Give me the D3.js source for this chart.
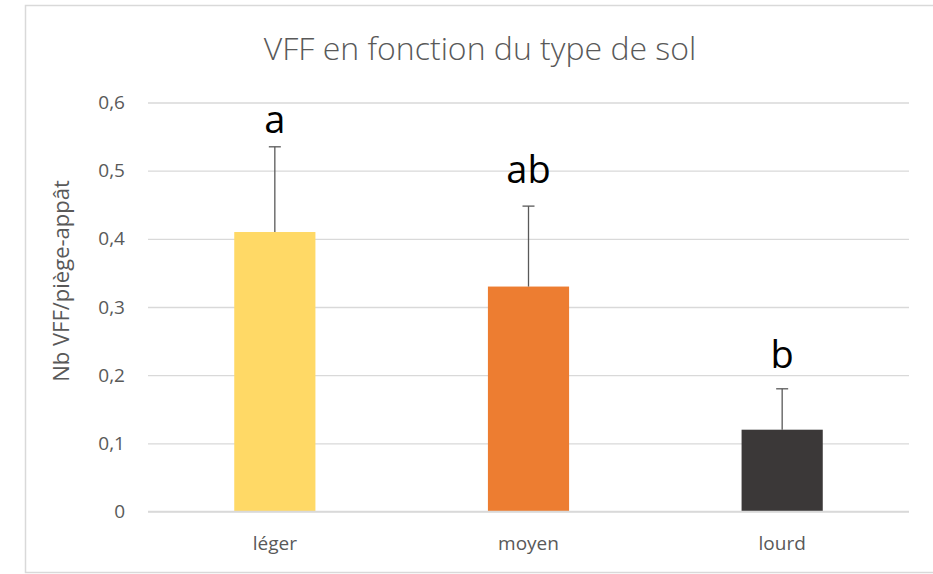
<!DOCTYPE html>
<html>
<head>
<meta charset="utf-8">
<script src="https://cdn.jsdelivr.net/npm/d3@7"></script>
<style>
  body { margin: 0; background: #fff; }
  text { font-family: "Open Sans", "Liberation Sans", sans-serif; }
</style>
</head>
<body>
<div id="chart"></div>
<script>
// data
let categories = ["léger", "moyen", "lourd"];
let means = [0.41, 0.33, 0.12];
let errors = [0.125, 0.118, 0.06];
let groups = ["a", "ab", "b"];
let groupPos = [0.555, 0.482, 0.21];   // where the letters sit (axis units)
let colors = ["#FFD966", "#ED7D31", "#3B3838"];
let yTicks = [0, 0.1, 0.2, 0.3, 0.4, 0.5, 0.6];

let W = 933, H = 574;
let margin = {top: 102.5, left: 148, right: 24, bottom: 62.5};

let svg = d3.select("#chart").append("svg")
  .attr("width", W)
  .attr("height", H);

// chart frame
svg.append("rect")
  .attr("x", 25.5).attr("y", 5.5)
  .attr("width", 930).attr("height", 567)
  .attr("fill", "#fff")
  .attr("stroke", "#d9d9d9")
  .attr("stroke-width", 1.5);

let x = d3.scaleBand()
  .domain(categories)
  .range([margin.left, W - margin.right])
  .paddingInner(0.68)
  .paddingOuter(0.34);

let y = d3.scaleLinear()
  .domain([0, 0.6])
  .range([H - margin.bottom, margin.top]);

let fmt = d => d === 0 ? "0" : d3.format(".1f")(d).replace(".", ",");

// grid + y labels
let yAxis = svg.append("g")
  .attr("transform", "translate(" + margin.left + ",0)")
  .call(d3.axisLeft(y).tickValues(yTicks).tickFormat(fmt)
    .tickSize(-(W - margin.right - margin.left)).tickPadding(23));
yAxis.select(".domain").remove();
yAxis.selectAll(".tick line").attr("stroke", "#d9d9d9").attr("stroke-width", 1.3);
yAxis.selectAll(".tick text")
  .attr("fill", "#595959")
  .style("font-size", "19px");

// bars
svg.append("g").selectAll("rect")
  .data(categories)
  .enter()
  .append("rect")
  .attr("x", d => x(d))
  .attr("y", (d, i) => y(means[i]))
  .attr("width", x.bandwidth())
  .attr("height", (d, i) => y(0) - y(means[i]))
  .attr("fill", (d, i) => colors[i]);

// baseline over the bars
svg.append("line")
  .attr("x1", margin.left).attr("x2", W - margin.right)
  .attr("y1", y(0)).attr("y2", y(0))
  .attr("stroke", "#d9d9d9").attr("stroke-width", 1.3);

// error bars (upper only)
let err = svg.append("g").attr("stroke", "#595959").attr("stroke-width", 1.3);
categories.forEach((c, i) => {
  let cx = x(c) + x.bandwidth() / 2;
  err.append("line")
    .attr("x1", cx).attr("x2", cx)
    .attr("y1", y(means[i])).attr("y2", y(means[i] + errors[i]));
  err.append("line")
    .attr("x1", cx - 6).attr("x2", cx + 6)
    .attr("y1", y(means[i] + errors[i])).attr("y2", y(means[i] + errors[i]));
});

// significance letters
svg.append("g").selectAll("text")
  .data(categories)
  .enter()
  .append("text")
  .attr("x", d => x(d) + x.bandwidth() / 2)
  .attr("y", (d, i) => y(groupPos[i]))
  .attr("text-anchor", "middle")
  .attr("fill", "#000")
  .style("font-size", "38px")
  .text((d, i) => groups[i]);

// category labels
svg.append("g").selectAll("text")
  .data(categories)
  .enter()
  .append("text")
  .attr("x", d => x(d) + x.bandwidth() / 2)
  .attr("y", y(0) + 38)
  .attr("text-anchor", "middle")
  .attr("fill", "#595959")
  .style("font-size", "19px")
  .text(d => d);

// title
svg.append("text")
  .attr("x", 480)
  .attr("y", 60)
  .attr("text-anchor", "middle")
  .attr("fill", "#595959")
  .style("font-size", "32px")
  .style("font-weight", 300)
  .text("VFF en fonction du type de sol");

// y axis title
svg.append("text")
  .attr("transform", "translate(69,281) rotate(-90)")
  .attr("text-anchor", "middle")
  .attr("fill", "#595959")
  .style("font-size", "22px")
  .text("Nb VFF/piège-appât");
</script>
</body>
</html>
